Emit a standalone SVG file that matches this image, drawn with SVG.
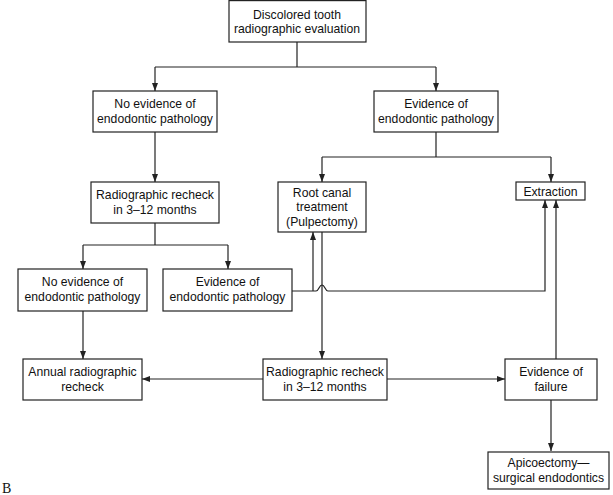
<svg xmlns="http://www.w3.org/2000/svg" width="613" height="495" viewBox="0 0 613 495">
<style>
.box{fill:#fff;stroke:#222;stroke-width:1.2}
.t{font-family:"Liberation Sans",Arial,sans-serif;font-size:12.2px;fill:#111;text-anchor:middle}
.c{fill:none;stroke:#222;stroke-width:1.2}
</style>
<defs>
<marker id="ah" markerUnits="userSpaceOnUse" markerWidth="8" markerHeight="8" viewBox="0 0 8 8" refX="8" refY="4" orient="auto">
<path d="M0,1 L8,4 L0,7 Z" fill="#222"/>
</marker>
</defs>
<rect width="613" height="495" fill="#fff"/>
<g id="connectors">
<path class="c" d="M297,42 V67 M155,67 H436"/>
<path class="c" d="M155,67 V91" marker-end="url(#ah)"/>
<path class="c" d="M436,67 V91" marker-end="url(#ah)"/>
<path class="c" d="M155,132 V182" marker-end="url(#ah)"/>
<path class="c" d="M436,132 V157 M322,157 H551"/>
<path class="c" d="M322,157 V182" marker-end="url(#ah)"/>
<path class="c" d="M551,157 V182" marker-end="url(#ah)"/>
<path class="c" d="M155,223 V245 M83,245 H228"/>
<path class="c" d="M83,245 V269" marker-end="url(#ah)"/>
<path class="c" d="M228,245 V269" marker-end="url(#ah)"/>
<path class="c" d="M83,311 V359" marker-end="url(#ah)"/>
<path class="c" d="M313,291 V232" marker-end="url(#ah)"/>
<path class="c" d="M292,291 H316 C319,291 319,285 322,285 C325,285 325,291 328,291 H545 V200" marker-end="url(#ah)"/>
<path class="c" d="M322,232 V359" marker-end="url(#ah)"/>
<path class="c" d="M263,379 H142" marker-end="url(#ah)"/>
<path class="c" d="M387,379 H505" marker-end="url(#ah)"/>
<path class="c" d="M556,359 V200" marker-end="url(#ah)"/>
<path class="c" d="M551,400 V451" marker-end="url(#ah)"/>
</g>
<g id="n-discolored"><rect class="box" x="229" y="0.6" width="137" height="41.4"/><text class="t" x="297" y="19">Discolored tooth</text><text class="t" x="297" y="33">radiographic evaluation</text></g>
<g id="n-noevid1"><rect class="box" x="93" y="91" width="124" height="41"/><text class="t" x="155" y="108">No evidence of</text><text class="t" x="155" y="123">endodontic pathology</text></g>
<g id="n-evid1"><rect class="box" x="374" y="91" width="124" height="41"/><text class="t" x="436" y="108">Evidence of</text><text class="t" x="436" y="123">endodontic pathology</text></g>
<g id="n-recheck1"><rect class="box" x="91" y="182" width="128" height="41"/><text class="t" x="155" y="199">Radiographic recheck</text><text class="t" x="155" y="214">in 3–12 months</text></g>
<g id="n-rootcanal"><rect class="box" x="278" y="182" width="88" height="50"/><text class="t" x="322" y="197">Root canal</text><text class="t" x="322" y="211">treatment</text><text class="t" x="322" y="226">(Pulpectomy)</text></g>
<g id="n-extraction"><rect class="box" x="516" y="182" width="69" height="18"/><text class="t" x="550.5" y="195.5">Extraction</text></g>
<g id="n-noevid2"><rect class="box" x="18" y="269" width="129" height="42"/><text class="t" x="82.5" y="286">No evidence of</text><text class="t" x="82.5" y="301">endodontic pathology</text></g>
<g id="n-evid2"><rect class="box" x="163" y="269" width="129" height="42"/><text class="t" x="227.5" y="286">Evidence of</text><text class="t" x="227.5" y="301">endodontic pathology</text></g>
<g id="n-annual"><rect class="box" x="23" y="359" width="119" height="41"/><text class="t" x="82.5" y="376">Annual radiographic</text><text class="t" x="82.5" y="391">recheck</text></g>
<g id="n-recheck2"><rect class="box" x="263" y="359" width="124" height="41"/><text class="t" x="325" y="376">Radiographic recheck</text><text class="t" x="325" y="391">in 3–12 months</text></g>
<g id="n-failure"><rect class="box" x="505" y="359" width="92" height="41"/><text class="t" x="551" y="376">Evidence of</text><text class="t" x="551" y="391">failure</text></g>
<g id="n-apico"><rect class="box" x="488" y="452" width="121" height="37"/><text class="t" x="548.5" y="467">Apicoectomy—</text><text class="t" x="548.5" y="482">surgical endodontics</text></g>
<text x="2" y="493" font-family="'Liberation Serif','Times New Roman',serif" font-size="14" fill="#111">B</text>
</svg>
